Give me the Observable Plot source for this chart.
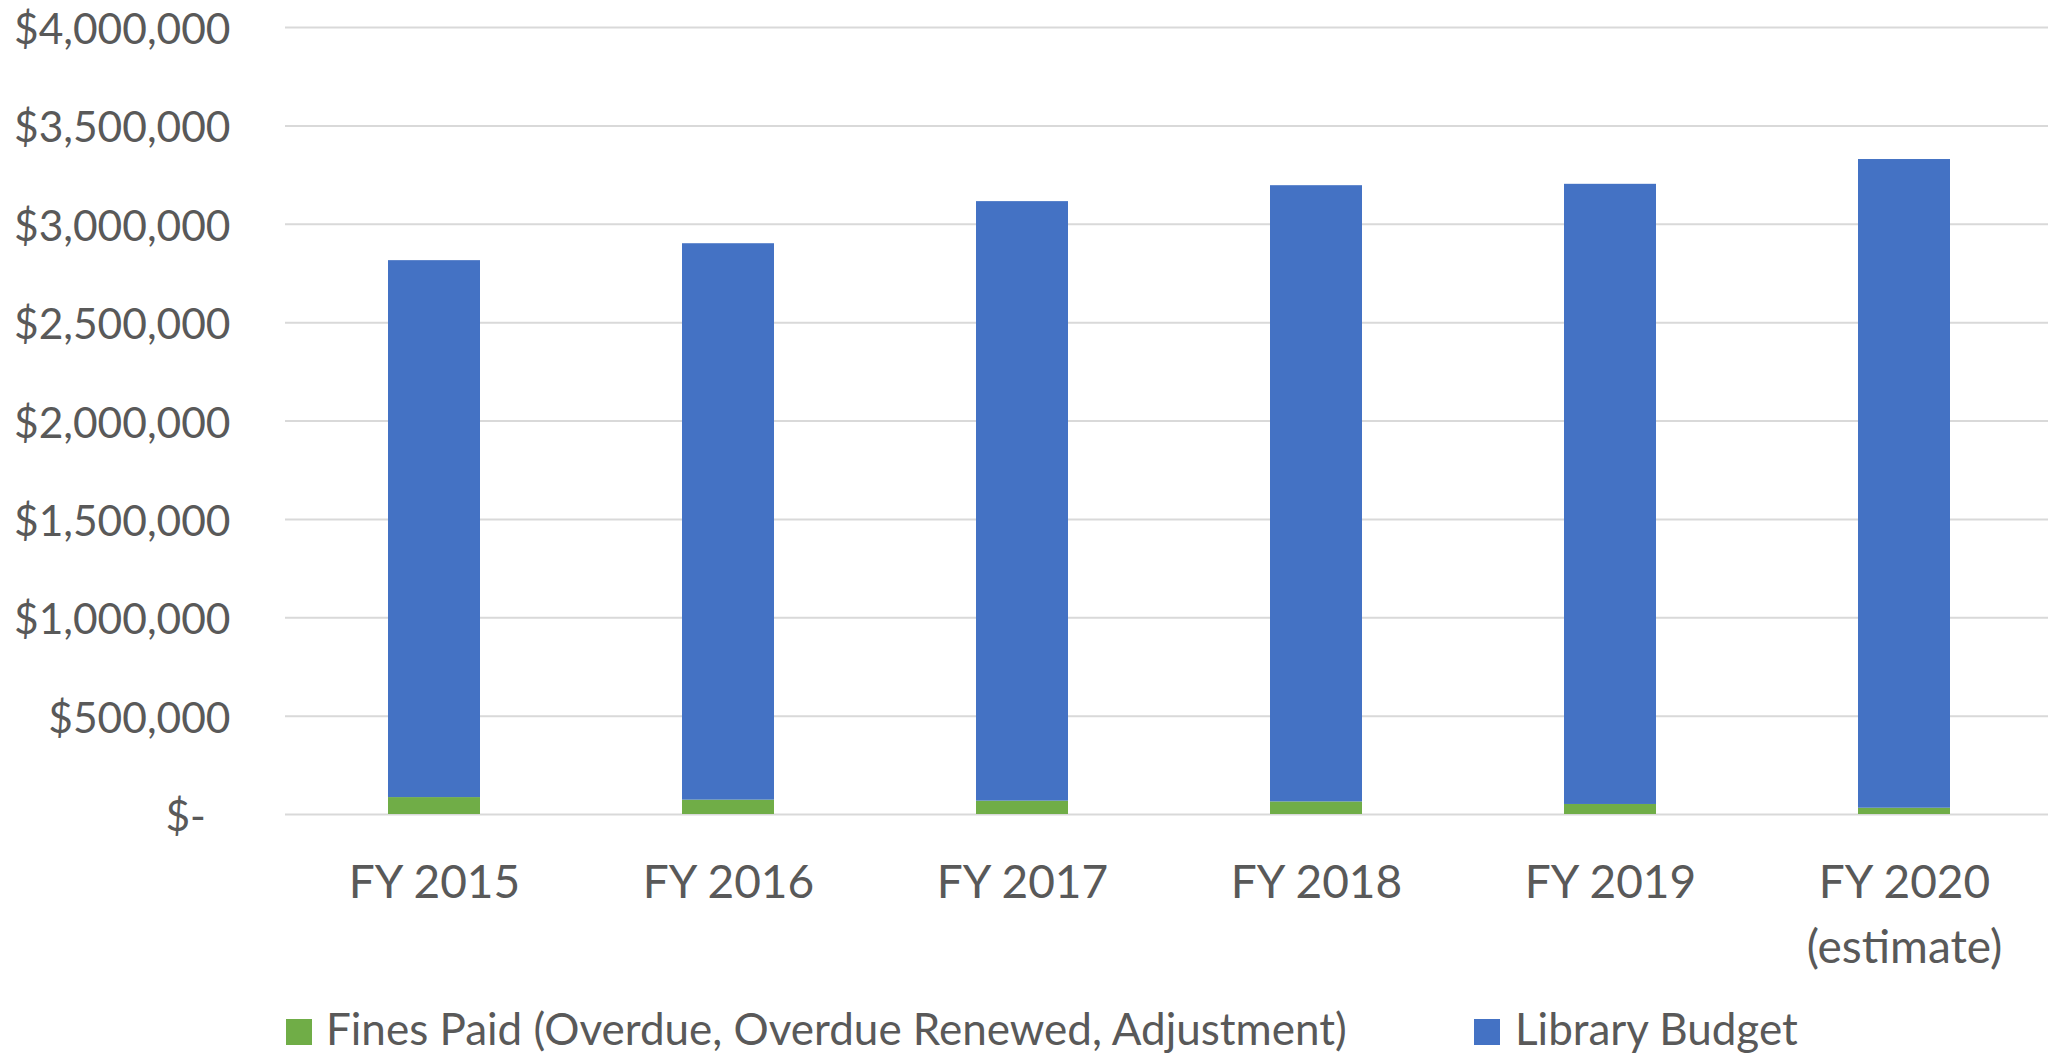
<!DOCTYPE html>
<html><head><meta charset="utf-8">
<script src="https://cdn.jsdelivr.net/npm/d3@7"></script>
<script src="https://cdn.jsdelivr.net/npm/@observablehq/plot@0.6"></script>
<style>
body{margin:0;background:#fff;font-family:Lato,sans-serif;overflow:hidden;}
#chart svg{display:block;}
#legend{position:relative;height:55px;width:2048px;color:#595959;font-size:44px;}
.sw{position:absolute;top:19px;width:26px;height:26px;}
.lt{position:absolute;top:6px;line-height:44px;white-space:nowrap;}
</style></head><body><div id="chart"></div><div id="legend"></div>
<script>
const years = ["FY 2015","FY 2016","FY 2017","FY 2018","FY 2019","FY 2020\n(estimate)"];
const fines = [86000, 73000, 68000, 64000, 51000, 32000];
const budget = [2729000, 2828000, 3047000, 3132000, 3152000, 3297000];
const seriesNames = ["Fines Paid (Overdue, Overdue Renewed, Adjustment)", "Library Budget"];
const colors = ["#70AD47", "#4472C4"];
const yTicks = [0, 500000, 1000000, 1500000, 2000000, 2500000, 3000000, 3500000, 4000000];

const data = years.flatMap((y, i) => [
  {year: y, series: seriesNames[0], value: fines[i]},
  {year: y, series: seriesNames[1], value: budget[i]}
]);
const fmt = v => v === 0 ? "$-\u2007" : "$" + d3.format(",")(v);

const chart = Plot.plot({
  width: 2048, height: 1000,
  marginTop: 27, marginBottom: 186, marginLeft: 285, marginRight: -5,
  style: {fontFamily: "Lato, sans-serif", color: "#595959", background: "#fff"},
  x: {domain: years, paddingInner: 0.688, paddingOuter: 0.344, label: null},
  y: {domain: [0, 4000000], label: null},
  color: {domain: seriesNames, range: colors},
  marks: [
    Plot.gridY(yTicks, {stroke: "#d9d9d9", strokeOpacity: 1, strokeWidth: 2}),
    Plot.barY(data, {x: "year", y: "value", fill: "series"}),
    Plot.axisY(yTicks, {tickSize: 0, tickPadding: 55, tickFormat: fmt, fontSize: 42.5, dy: 3, label: null, fill: "#595959"}),
    Plot.axisX({tickSize: 0, tickPadding: 38, fontSize: 46, lineHeight: 1.4, label: null, fill: "#595959"})
  ]
});
document.getElementById("chart").appendChild(chart);

const legend = document.getElementById("legend");
const pos = [[286, 326], [1474, 1515]];
seriesNames.forEach((name, i) => {
  const sw = document.createElement("div");
  sw.className = "sw"; sw.style.left = pos[i][0] + "px"; sw.style.background = colors[i];
  const lt = document.createElement("div");
  lt.className = "lt"; lt.style.left = pos[i][1] + "px"; lt.textContent = name;
  legend.appendChild(sw); legend.appendChild(lt);
});
</script></body></html>
